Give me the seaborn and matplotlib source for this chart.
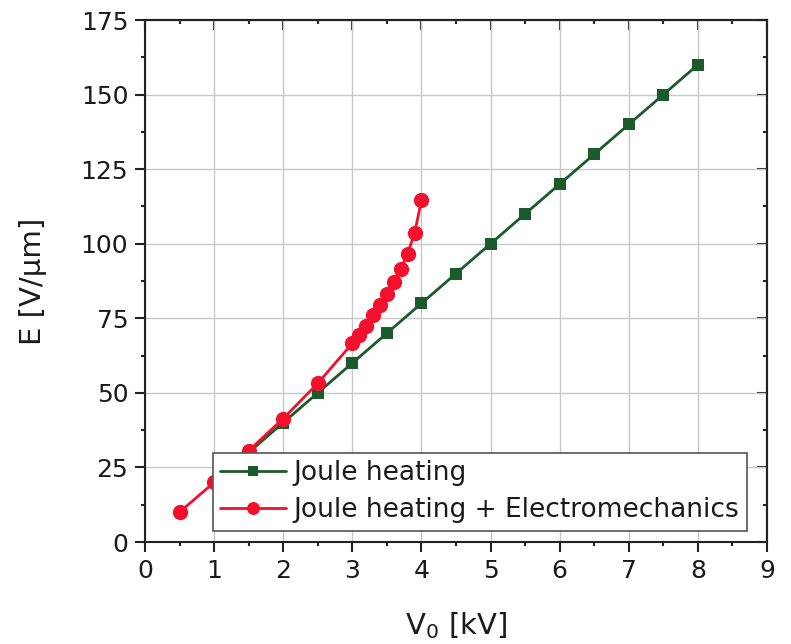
import matplotlib
matplotlib.use("Agg")
import matplotlib.pyplot as plt
import seaborn as sns
import numpy as np
from matplotlib.ticker import MultipleLocator

# Data
joule_v = [1.5, 2.0, 2.5, 3.0, 3.5, 4.0, 4.5, 5.0, 5.5, 6.0, 6.5, 7.0, 7.5, 8.0]
joule_e = [30, 40, 50, 60, 70, 80, 90, 100, 110, 120, 130, 140, 150, 160]
em_v = [0.5, 1.0, 1.5, 2.0, 2.5, 3.0, 3.1, 3.2, 3.3, 3.4, 3.5, 3.6, 3.7, 3.8, 3.9, 4.0]
em_e = [10, 20, 30.6, 41.4, 53.2, 66.6, 69.4, 72.5, 76.1, 79.4, 83.1, 87.1, 91.5, 96.7, 103.5, 114.5]
labels = ["Joule heating", "Joule heating + Electromechanics"]

sns.set_style("white")
plt.rcParams['font.family'] = ['DejaVu Sans']
plt.rcParams['text.color'] = '#1a1a1a'
plt.rcParams['axes.labelcolor'] = '#1a1a1a'
plt.rcParams['xtick.color'] = '#1a1a1a'
plt.rcParams['ytick.color'] = '#1a1a1a'

fig = plt.figure(figsize=(7.91, 6.44), dpi=100)
ax = fig.add_axes([145/791, 1-542/644, (767-145)/791, (542-20)/644])

green = "#1b5a2a"
red = "#f2102c"
sns.lineplot(x=joule_v, y=joule_e, ax=ax, color=green, marker="s", markersize=9,
             markeredgewidth=0, linewidth=2, label=labels[0])
sns.lineplot(x=em_v, y=em_e, ax=ax, color=red, marker="o", markersize=11,
             markeredgewidth=0, linewidth=2, label=labels[1])

ax.set_xlim(0, 9)
ax.set_ylim(0, 175)
ax.xaxis.set_major_locator(MultipleLocator(1))
ax.xaxis.set_minor_locator(MultipleLocator(0.5))
ax.yaxis.set_major_locator(MultipleLocator(25))
ax.yaxis.set_minor_locator(MultipleLocator(12.5))
ax.grid(True, which="major", color="#c8c8c8", linewidth=1)
ax.set_axisbelow(True)

for s in ax.spines.values():
    s.set_color("#222222")
    s.set_linewidth(1.5)

ax.tick_params(which="both", bottom=True, left=True, top=False, right=False)
ax.tick_params(which="major", direction="out", length=7, width=1.5, labelsize=18,
               color="#222222", pad=5)
ax.tick_params(which="minor", direction="out", length=3, width=1.5, color="#222222")

# inward ticks on top and right
secx = ax.secondary_xaxis("top")
secx.xaxis.set_major_locator(MultipleLocator(1))
secx.xaxis.set_minor_locator(MultipleLocator(0.5))
secx.tick_params(which="both", top=True, bottom=False)
secx.tick_params(which="major", direction="in", length=7, width=1.5, labeltop=False, color="#222222")
secx.tick_params(which="minor", direction="in", length=3, width=1.5, color="#222222")
secy = ax.secondary_yaxis("right")
secy.yaxis.set_major_locator(MultipleLocator(25))
secy.yaxis.set_minor_locator(MultipleLocator(12.5))
secy.tick_params(which="both", right=True, left=False)
secy.tick_params(which="major", direction="in", length=7, width=1.5, labelright=False, color="#222222")
secy.tick_params(which="minor", direction="in", length=3, width=1.5, color="#222222")
for sa in (secx, secy):
    for s in sa.spines.values():
        s.set_color("#222222")
        s.set_linewidth(1.5)

ax.set_xlabel("V$_0$ [kV]", fontsize=21, labelpad=20)
ax.set_ylabel("E [V/\u03bcm]", fontsize=21, labelpad=24)

leg = ax.legend(loc="lower left", bbox_to_anchor=(0.109, 0.022), fontsize=19,
                frameon=True, fancybox=False, edgecolor="#555555", framealpha=1,
                handlelength=2.5, markerscale=0.85, borderpad=0.27, labelspacing=0.42,
                handletextpad=0.3, borderaxespad=0)
leg.get_frame().set_linewidth(1.2)

fig.savefig("out.png", dpi=100)
